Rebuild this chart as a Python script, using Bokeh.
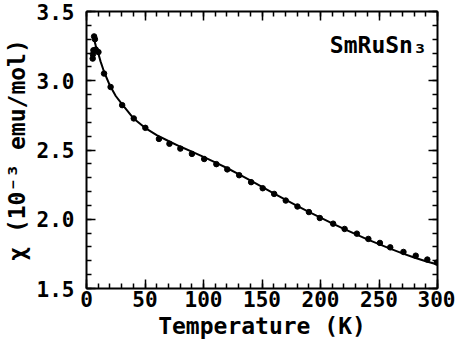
from bokeh.plotting import figure
from bokeh.models import (Range1d, LinearAxis, FixedTicker, Label,
                          CustomJSTickFormatter, NumeralTickFormatter)
from bokeh.embed import file_html
from bokeh.resources import INLINE

# measured points
pts_T = [5.3, 5.5, 6.5, 7.2, 5.9, 7.9, 10.2, 15.0, 20.6, 30.5, 40.4, 50.3, 61.9,
         70.9, 80.2, 90.1, 100.6, 111.0, 120.3, 130.5, 140.7, 150.6, 160.4, 170.3,
         180.3, 190.1, 199.4, 210.8, 220.6, 231.1, 240.9, 250.8, 259.6, 270.9,
         281.4, 291.3, 299.5]
pts_chi = [3.16, 3.19, 3.32, 3.30, 3.22, 3.225, 3.207, 3.052, 2.955, 2.824, 2.728,
           2.660, 2.580, 2.545, 2.510, 2.472, 2.435, 2.398, 2.360, 2.318, 2.268,
           2.224, 2.183, 2.135, 2.092, 2.052, 2.009, 1.968, 1.930, 1.896, 1.858,
           1.829, 1.797, 1.764, 1.737, 1.709, 1.687]

# fitted curve
fit_T = [6, 8, 10, 12, 15, 20, 25, 30, 40, 50, 60, 70, 80, 90, 100, 110, 120, 130,
         140, 150, 160, 170, 180, 190, 200, 210, 220, 230, 240, 250, 260, 270, 280,
         290, 300]
fit_chi = [3.315, 3.25, 3.20, 3.14, 3.065, 2.965, 2.89, 2.835, 2.73, 2.66, 2.607,
           2.565, 2.525, 2.488, 2.45, 2.41, 2.37, 2.325, 2.28, 2.233, 2.187, 2.141,
           2.097, 2.054, 2.012, 1.97, 1.93, 1.892, 1.855, 1.82, 1.786, 1.754, 1.724,
           1.697, 1.673]

x_major = [0, 50, 100, 150, 200, 250, 300]
x_minor = list(range(0, 301, 10))
y_major = [1.5, 2.0, 2.5, 3.0, 3.5]
y_minor = [round(1.5 + 0.1 * i, 1) for i in range(21)]

FONT = "DejaVu Sans Mono"

p = figure(width=455, height=341, output_backend="svg", toolbar_location=None,
           x_range=Range1d(0, 300), y_range=Range1d(1.5, 3.5),
           min_border_left=85, min_border_right=18, min_border_top=11,
           min_border_bottom=40, x_axis_location=None, y_axis_location=None)
p.grid.visible = False
p.outline_line_color = None
p.background_fill_color = "white"
p.border_fill_color = "white"


def style(ax, ticks, minor, labels=True):
    ax.ticker = FixedTicker(ticks=ticks, minor_ticks=minor)
    ax.axis_line_width = 2
    ax.axis_line_color = "black"
    ax.major_tick_in = 9
    ax.major_tick_out = 0
    ax.minor_tick_in = 5
    ax.minor_tick_out = 0
    ax.major_tick_line_width = 1.5
    ax.minor_tick_line_width = 1.5
    ax.major_tick_line_color = "black"
    ax.minor_tick_line_color = "black"
    if not labels:
        ax.formatter = CustomJSTickFormatter(code="return ''")
        ax.major_label_standoff = 0
    else:
        ax.major_label_text_font = FONT
        ax.major_label_text_font_style = "bold"
        ax.major_label_text_font_size = "21px"
        ax.major_label_text_color = "black"
        ax.axis_label_text_font = FONT
        ax.axis_label_text_font_style = "bold"
        ax.axis_label_text_font_size = "23px"
        ax.axis_label_text_color = "black"


xb = LinearAxis(axis_label="Temperature (K)")
style(xb, x_major, x_minor)
xb.major_label_standoff = 2
xb.axis_label_standoff = 3
p.add_layout(xb, "below")

yl = LinearAxis(axis_label="\u03c7 (10\u207b\u00b3 emu/mol)")
style(yl, y_major, y_minor)
yl.formatter = NumeralTickFormatter(format="0.0")
yl.major_label_standoff = 12
yl.axis_label_standoff = 4
p.add_layout(yl, "left")

xt = LinearAxis()
style(xt, x_major, x_minor, labels=False)
p.add_layout(xt, "above")

yr = LinearAxis()
style(yr, y_major, y_minor, labels=False)
p.add_layout(yr, "right")

p.line(fit_T, fit_chi, line_color="black", line_width=2)
p.scatter(pts_T, pts_chi, size=5.5, fill_color="black", line_color="black")

p.add_layout(Label(x=208, y=3.355, text="SmRuSn\u2083", text_font=FONT,
                   text_font_style="bold", text_font_size="23px",
                   text_baseline="top", text_color="black"))

open("out.html", "w").write(file_html(p, INLINE))
